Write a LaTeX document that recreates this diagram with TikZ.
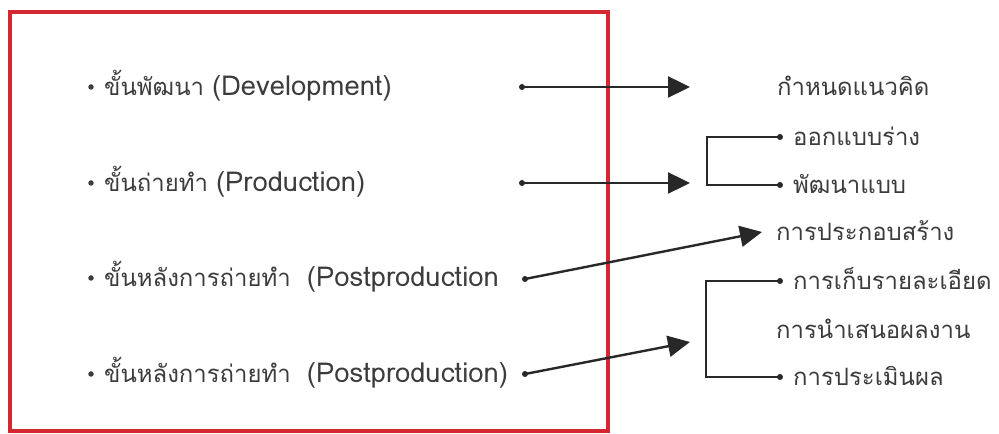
\documentclass[tikz,border=0pt]{standalone}
\usepackage{fontspec}
\newfontfamily\thaifont[Script=Thai]{Loma}
\usetikzlibrary{arrows.meta}
\definecolor{frame}{RGB}{212,40,48}
\definecolor{ink}{RGB}{40,40,40}
\definecolor{txt}{RGB}{60,60,60}
\newcommand\latpart[1]{{\fontsize{27.5}{30}\selectfont #1}}
\begin{document}
\begin{tikzpicture}[x=1bp,y=-1bp,
  lbl/.style={anchor=base west,inner sep=0pt,font=\thaifont\fontsize{24}{28}\selectfont,text=txt},
  dotn/.style={circle,fill=ink,inner sep=0pt,minimum size=6bp},
  bul/.style={circle,fill=txt,inner sep=0pt,minimum size=5.5bp},
  conn/.style={draw=ink,line width=2.4bp},
  arr/.style={conn,-{Triangle[length=22bp,width=21bp]}},
  brk/.style={draw=ink,line width=2.2bp}]
\useasboundingbox (0,0) rectangle (999,434);
\draw[frame,line width=4bp] (10,12) rectangle (608,431);
% left bullets and texts
\node[bul] (b1) at (91,87) {};
\node[bul] (b2) at (91,183) {};
\node[bul] (b3) at (91,278) {};
\node[bul] (b4) at (91,374) {};
\node[lbl] (l1) at (104,96) {ขั้นพัฒนา \latpart{(Development)}};
\node[lbl] (l2) at (104,192) {ขั้นถ่ายทำ \latpart{(Production)}};
\node[lbl] (l3) at (104,287) {ขั้นหลังการถ่ายทำ\ \ \latpart{(Postproduction}};
\node[lbl] (l4) at (104,383) {ขั้นหลังการถ่ายทำ\ \ \latpart{(Postproduction)}};
% connector start dots
\node[dotn] (d1) at (522,87) {};
\node[dotn] (d2) at (522,183) {};
\node[dotn] (d3) at (525,279) {};
\node[dotn] (d4) at (525,374) {};
\coordinate (t1) at (690,87);
\coordinate (t2) at (690,183);
\coordinate (t3) at (762,232);
\coordinate (t4) at (690,342);
\draw[arr] (d1.center) -- (t1);
\draw[arr] (d2.center) -- (t2);
\draw[arr] (d3.center) -- (t3);
\draw[arr] (d4.center) -- (t4);
% right texts
\node[lbl] (r1) at (777,96) {กำหนดแนวคิด};
\node[lbl] (r2) at (793,146) {ออกแบบร่าง};
\node[lbl] (r3) at (793,194) {พัฒนาแบบ};
\node[lbl] (r4) at (776,241) {การประกอบสร้าง};
\node[lbl] (r5) at (793,290) {การเก็บรายละเอียด};
\node[lbl] (r6) at (776,339) {การนำเสนอผลงาน};
\node[lbl] (r7) at (793,386) {การประเมินผล};
% brackets
\node[dotn] (e2) at (780,137) {};
\node[dotn] (e3) at (780,185) {};
\node[dotn] (e5) at (780,281) {};
\node[dotn] (e7) at (780,377) {};
\coordinate (k1) at (707,137);
\coordinate (k2) at (707,185);
\coordinate (k3) at (706,281);
\coordinate (k4) at (706,377);
\draw[brk] (e2.center) -- (k1) -- (k2) -- (e3.center);
\draw[brk] (e5.center) -- (k3) -- (k4) -- (e7.center);
\end{tikzpicture}
\end{document}
